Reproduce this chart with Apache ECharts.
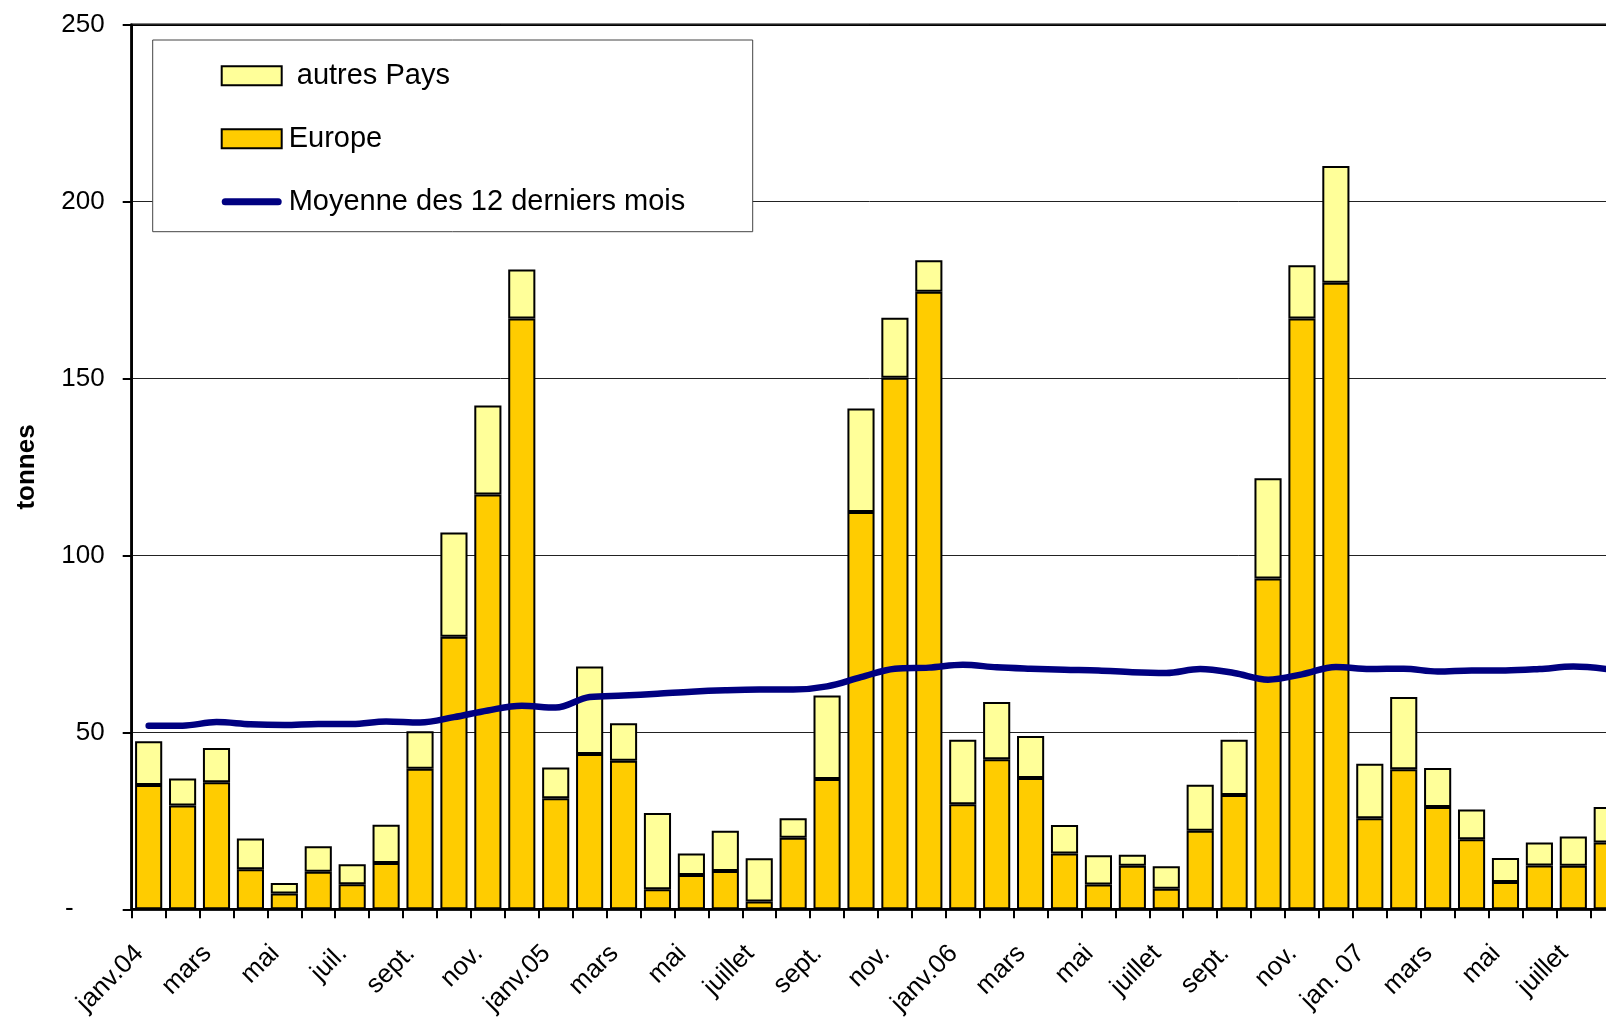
<!DOCTYPE html>
<html>
<head>
<meta charset="utf-8">
<script src="https://cdn.jsdelivr.net/npm/echarts@6/dist/echarts.min.js"></script>
<style>
html,body{margin:0;padding:0;background:#fff;}
#chart{width:1606px;height:1019px;}
</style>
</head>
<body>
<div id="chart"></div>
<script>
const categories = [
  'janv.04','févr.','mars','avr.','mai','juin','juil.','août','sept.','oct.','nov.','déc.',
  'janv.05','févr.','mars','avr.','mai','juin','juillet','août','sept.','oct.','nov.','déc.',
  'janv.06','févr.','mars','avr.','mai','juin','juillet','août','sept.','oct.','nov.','déc.',
  'jan. 07','févr.','mars','avr.','mai','juin','juillet','août'
];
const europe = [
  35.1, 29.3, 35.9, 11.3, 4.5, 10.6, 7.1, 13.1, 39.7, 77.0, 117.2, 167.0,
  31.4, 43.9, 42.0, 5.7, 9.7, 10.8, 2.2, 20.2, 36.8, 112.3, 150.2, 174.5,
  29.7, 42.4, 37.1, 15.8, 7.0, 12.3, 5.8, 22.2, 32.3, 93.5, 167.0, 177.1,
  25.7, 39.6, 28.9, 19.8, 7.7, 12.4, 12.3, 18.9
];
const autresPays = [
  12.4, 7.7, 9.7, 8.7, 2.9, 7.2, 5.6, 10.8, 10.6, 29.5, 25.2, 13.8,
  8.7, 24.7, 10.6, 21.5, 6.1, 11.4, 12.2, 5.5, 23.6, 29.2, 17.0, 8.9,
  18.2, 16.2, 11.9, 8.0, 8.3, 3.1, 6.4, 13.0, 15.6, 28.3, 15.0, 33.0,
  15.4, 20.4, 11.0, 8.4, 6.8, 6.5, 8.3, 10.0
];
const moyenne12 = [
  51.9, 51.9, 52.9, 52.3, 52.1, 52.4, 52.4, 53.1, 52.8, 54.3, 56.2, 57.5,
  57.0, 60.0, 60.4, 60.9, 61.5, 61.9, 62.1, 62.1, 63.0, 65.6, 68.0, 68.3,
  69.1, 68.4, 68.0, 67.7, 67.5, 67.0, 66.8, 67.9, 66.8, 64.9, 66.4, 68.5,
  67.9, 68.0, 67.2, 67.5, 67.5, 67.9, 68.6, 67.9
];
const yTicks = [0, 50, 100, 150, 200, 250];

const FONT = "'Liberation Sans', Arial, Helvetica, sans-serif";
const chart = echarts.init(document.getElementById('chart'), null, {renderer: 'canvas'});

chart.setOption({
  animation: false,
  backgroundColor: '#ffffff',
  textStyle: {fontFamily: FONT},
  grid: {
    left: 131.7, top: 24.7, right: -18.2, bottom: 1019 - 909.3,
    outerBoundsMode: 'none', containLabel: false,
    show: true, borderColor: '#000', borderWidth: 2.5, backgroundColor: 'transparent'
  },
  graphic: [{
    type: 'rect', z: 1,
    shape: {x: 152.7, y: 40, width: 600, height: 191.7},
    style: {fill: '#fff', stroke: '#444', lineWidth: 1}
  }],
  legend: {
    orient: 'vertical', left: 220.7, top: 60.7, z: 5,
    itemWidth: 60, itemHeight: 19, itemGap: 33, padding: 0,
    textStyle: {fontSize: 29, lineHeight: 30, color: '#000', fontFamily: FONT, padding: [0, 0, 0, 2]},
    data: [
      {name: ' autres Pays', icon: 'rect'},
      {name: 'Europe', icon: 'rect'},
      {name: 'Moyenne des 12 derniers mois', icon: 'path://M3.5,0L56.5,0A3.5,3.5,0,0,1,56.5,7L3.5,7A3.5,3.5,0,0,1,3.5,0Z'}
    ]
  },
  xAxis: {
    type: 'category', data: categories, boundaryGap: true,
    axisLine: {lineStyle: {color: '#000', width: 2.5}},
    axisTick: {show: true, interval: 0, length: 9, lineStyle: {color: '#000', width: 2}},
    axisLabel: {
      interval: 1, rotate: 45, fontSize: 26, color: '#000', fontFamily: FONT,
      margin: 31, padding: [0, 13, 0, 0]
    },
    splitLine: {show: false}
  },
  yAxis: {
    type: 'value', min: 0, max: 250, interval: 50,
    name: 'tonnes', nameLocation: 'middle', nameGap: 92,
    nameTextStyle: {fontSize: 26, fontWeight: 'bold', color: '#000', fontFamily: FONT},
    axisLine: {show: true, lineStyle: {color: '#000', width: 2.5}},
    axisTick: {show: true, length: 9, lineStyle: {color: '#000', width: 2}},
    axisLabel: {
      fontSize: 26, color: '#000', margin: 27, fontFamily: FONT,
      formatter: function (v) { return v === 0 ? '{d|-}' : String(v); },
      rich: {d: {fontSize: 26, color: '#000', fontFamily: FONT, padding: [0, 31, 0, 0]}}
    },
    splitLine: {show: true, lineStyle: {color: '#222', width: 1}}
  },
  series: [
    {
      name: 'Europe', type: 'bar', stack: 'total', data: europe,
      barCategoryGap: '20%',
      itemStyle: {color: '#FFCC00', borderColor: '#000', borderWidth: 2}
    },
    {
      name: ' autres Pays', type: 'bar', stack: 'total', data: autresPays,
      barCategoryGap: '20%',
      itemStyle: {color: '#FFFF99', borderColor: '#000', borderWidth: 2}
    },
    {
      name: 'Moyenne des 12 derniers mois', type: 'line', data: moyenne12,
      smooth: 0.35, symbol: 'none', z: 4,
      lineStyle: {color: '#000080', width: 6.5, cap: 'round', join: 'round'},
      itemStyle: {color: '#000080', borderWidth: 0}
    }
  ]
});
</script>
</body>
</html>
